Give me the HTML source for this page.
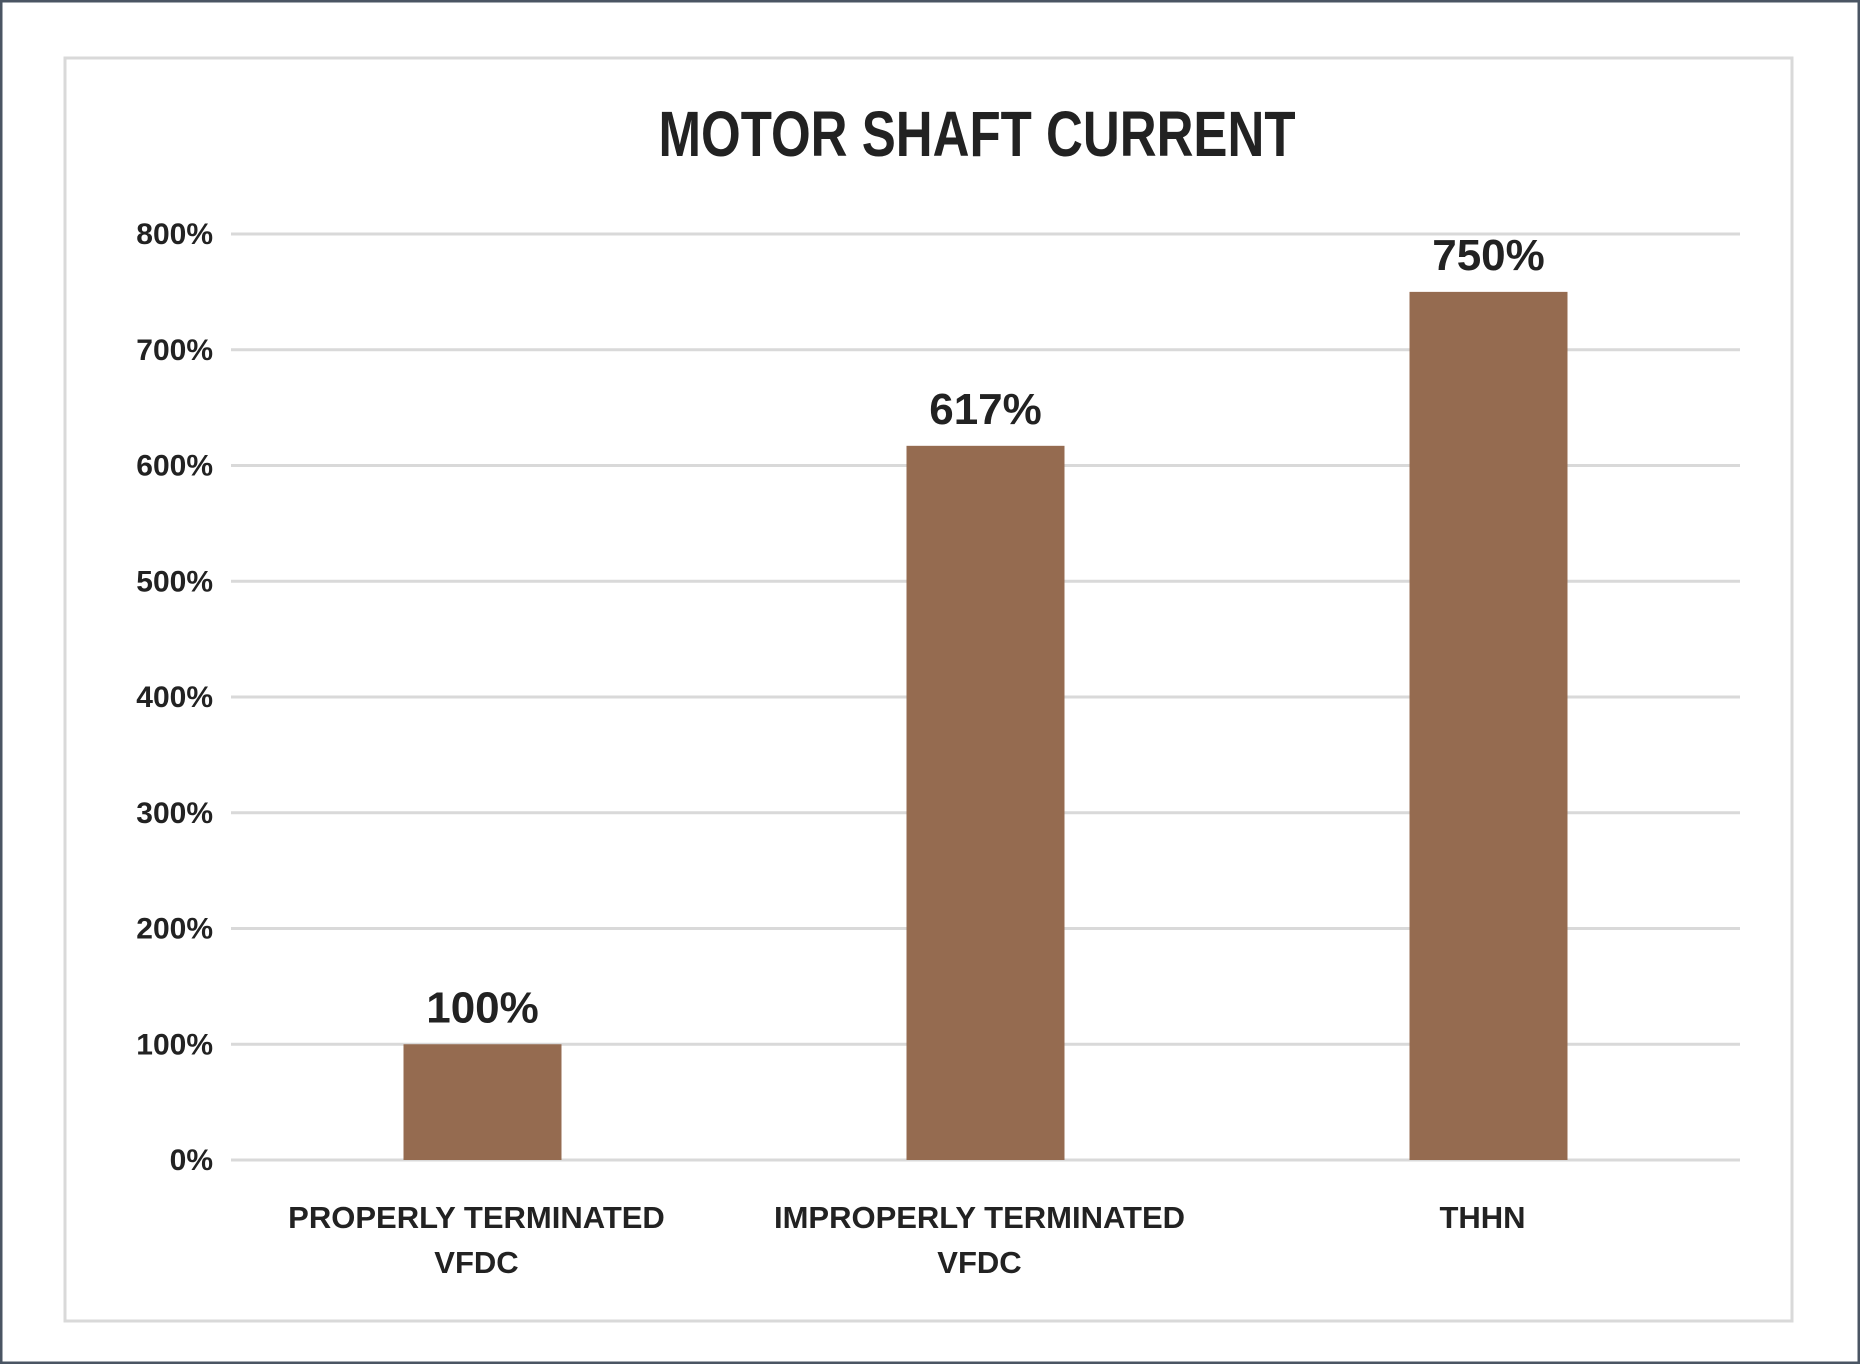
<!DOCTYPE html>
<html><head><meta charset="utf-8"><style>
html,body{margin:0;padding:0;background:#fff;}
svg{display:block;}
text{font-family:"Liberation Sans Narrow","Liberation Sans",sans-serif;font-weight:bold;fill:#222;}
</style></head><body>
<svg id="chart" width="1860" height="1364" viewBox="0 0 1860 1364">
<rect x="1" y="1" width="1858" height="1362" fill="#fff" stroke="#4a5563" stroke-width="3"/>
<rect x="65" y="58" width="1727" height="1263" fill="#fff" stroke="#d9d9d9" stroke-width="3"/>
<text x="977" y="156" text-anchor="middle" font-size="64" textLength="637" lengthAdjust="spacingAndGlyphs">MOTOR SHAFT CURRENT</text>
<g id="grid"></g><g id="bars"></g><g id="labels"></g>
</svg>
<script>
const categories = [["PROPERLY TERMINATED","VFDC"],["IMPROPERLY TERMINATED","VFDC"],["THHN"]];
const values = [100, 617, 750];
const valueLabels = ["100%","617%","750%"];
const tickValues = [0,100,200,300,400,500,600,700,800];
const tickLabels = ["0%","100%","200%","300%","400%","500%","600%","700%","800%"];

const NS="http://www.w3.org/2000/svg";
const plotL=231, plotR=1740, plotT=234, plotB=1160, yMax=800;
const y = v => plotB - (v/yMax)*(plotB-plotT);
const band=(plotR-plotL)/categories.length;
const xc = i => plotL + band*(i+0.5);
const barW=158;
function mk(tag, attrs, parent){const e=document.createElementNS(NS,tag);for(const k in attrs)e.setAttribute(k,attrs[k]);parent.appendChild(e);return e;}
const grid=document.getElementById('grid'), bars=document.getElementById('bars'), labels=document.getElementById('labels');
tickValues.forEach((t,i)=>{
  const l=mk('line',{x1:plotL,x2:plotR,y1:y(t),y2:y(t),stroke:'#d9d9d9','stroke-width':3},grid);
  
  
  const tx=mk('text',{x:213,y:y(t)+10,'text-anchor':'end','font-size':30},grid);
  tx.textContent=tickLabels[i];
  
  
});
values.forEach((v,i)=>{
  const r=mk('rect',{x:xc(i)-barW/2,y:y(v),width:barW,height:plotB-y(v),fill:'#956b50'},bars);
  
  
  const t=mk('text',{x:xc(i),y:y(v)-22,'text-anchor':'middle','font-size':44},labels);
  t.textContent=valueLabels[i];
  
  
  categories[i].forEach((line,j)=>{
    const c=mk('text',{x:xc(i)-6,y:1228+j*45,'text-anchor':'middle','font-size':31},labels);
    c.textContent=line;
    
    
  });
});
</script>
</body></html>
